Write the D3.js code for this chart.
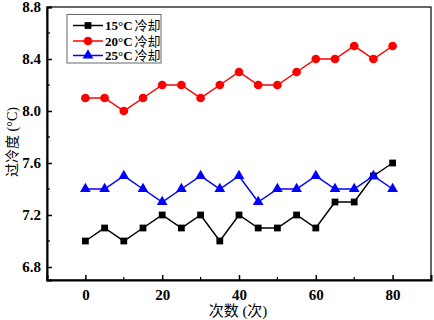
<!DOCTYPE html>
<html><head><meta charset="utf-8">
<script src="https://cdn.jsdelivr.net/npm/d3@7"></script>
<style>
html,body{margin:0;padding:0;background:#fff;}
svg{display:block;}
</style></head>
<body>
<svg id="chart" width="434" height="320"></svg>
<script>
const xValues = [0,5,10,15,20,25,30,35,40,45,50,55,60,65,70,75,80];
const series15 = [7.0,7.1,7.0,7.1,7.2,7.1,7.2,7.0,7.2,7.1,7.1,7.2,7.1,7.3,7.3,7.5,7.6];
const series20 = [8.1,8.1,8.0,8.1,8.2,8.2,8.1,8.2,8.3,8.2,8.2,8.3,8.4,8.4,8.5,8.4,8.5];
const series25 = [7.4,7.4,7.5,7.4,7.3,7.4,7.5,7.4,7.5,7.3,7.4,7.4,7.5,7.4,7.4,7.5,7.4];
const seriesNames = ["15°C 冷却","20°C 冷却","25°C 冷却"];
const xTicks = [0,20,40,60,80];
const yTicks = [6.8,7.2,7.6,8.0,8.4,8.8];
const xLabel = "次数 (次)";
const yLabel = "过冷度 (°C)";

const svg = d3.select("#chart");
const L=47, T=7, R=431, B=280;
const x = d3.scaleLinear().domain([-10,90]).range([L,R]);
const y = d3.scaleLinear().domain([6.7,8.8]).range([B,T]);

const numFont = "'Liberation Serif','Times New Roman',serif";
const cjkFont = "'Liberation Serif','Noto Sans CJK SC',serif";

// frame
svg.append("rect").attr("x",L).attr("y",T).attr("width",R-L).attr("height",B-T)
  .attr("fill","none").attr("stroke","#000").attr("stroke-width",1.2);

// axes (ticks inward)
const xAxis = d3.axisBottom(x).tickValues(xTicks).tickSize(-5).tickPadding(9).tickFormat(d3.format("d"));
const gx = svg.append("g").attr("transform",`translate(0,${B})`).call(xAxis);
const yAxis = d3.axisLeft(y).tickValues(yTicks).tickSize(-5).tickPadding(6).tickFormat(d3.format(".1f"));
const gy = svg.append("g").attr("transform",`translate(${L},0)`).call(yAxis);
[gx,gy].forEach(g=>{
  g.select(".domain").attr("stroke","#000").attr("stroke-width",2);
  g.selectAll(".tick line").attr("stroke","#000").attr("stroke-width",1.5);
  g.selectAll("text").attr("font-family",numFont).attr("font-weight","bold").attr("font-size",15).attr("fill","#000");
});
// minor ticks
const xMinor = xTicks.slice(0,-1).map(d=>d+10);
svg.append("g").selectAll("line").data(xMinor).join("line")
  .attr("x1",d=>x(d)).attr("x2",d=>x(d)).attr("y1",B).attr("y2",B-3)
  .attr("stroke","#000").attr("stroke-width",1.2);
const yMinor = yTicks.slice(0,-1).map(d=>+(d+0.2).toFixed(1));
svg.append("g").selectAll("line").data(yMinor).join("line")
  .attr("x1",L).attr("x2",L+3).attr("y1",d=>y(d)).attr("y2",d=>y(d))
  .attr("stroke","#000").attr("stroke-width",1.2);

// axis labels
svg.append("text").attr("x",238).attr("y",316).attr("text-anchor","middle")
  .attr("font-family",cjkFont).attr("font-size",15).attr("fill","#000").text(xLabel);
svg.append("text").attr("transform",`translate(17,142) rotate(-90)`).attr("text-anchor","middle")
  .attr("font-family",cjkFont).attr("font-size",14).attr("fill","#000").text(yLabel);

const allSeries = [
  {name:seriesNames[0], vals:series15, color:"#000000", shape:d3.symbolSquare, size:46},
  {name:seriesNames[1], vals:series20, color:"#ff0000", shape:d3.symbolCircle, size:60},
  {name:seriesNames[2], vals:series25, color:"#0000ff", shape:d3.symbolTriangle, size:50},
];
const line = d3.line().x((d,i)=>x(xValues[i])).y(d=>y(d));
allSeries.forEach(s=>{
  svg.append("path").datum(s.vals).attr("d",line).attr("fill","none")
    .attr("stroke",s.color).attr("stroke-width",1.5);
  svg.append("g").selectAll("path").data(s.vals).join("path")
    .attr("transform",(d,i)=>`translate(${x(xValues[i])},${y(d)})`)
    .attr("d",d3.symbol().type(s.shape).size(s.size)).attr("fill",s.color);
});

// legend
const lg = svg.append("g");
lg.append("rect").attr("x",67).attr("y",14.5).attr("width",94).attr("height",48.5)
  .attr("fill","#fff").attr("stroke","#666").attr("stroke-width",1);
const rowY = [25.5,41,55.5];
allSeries.forEach((s,i)=>{
  lg.append("line").attr("x1",73).attr("x2",103).attr("y1",rowY[i]).attr("y2",rowY[i])
    .attr("stroke",s.color).attr("stroke-width",1.5);
  lg.append("path").attr("transform",`translate(88,${rowY[i]})`)
    .attr("d",d3.symbol().type(s.shape).size(s.size)).attr("fill",s.color);
  const t = lg.append("text").attr("x",105).attr("y",rowY[i]+4.5)
    .attr("font-size",13).attr("fill","#000");
  const parts = s.name.split(" ");
  t.append("tspan").attr("font-family",numFont).attr("font-weight","bold").text(parts[0]);
  t.append("tspan").attr("font-family",cjkFont).attr("dx",2).text(parts[1]);
});
</script>
</body></html>
